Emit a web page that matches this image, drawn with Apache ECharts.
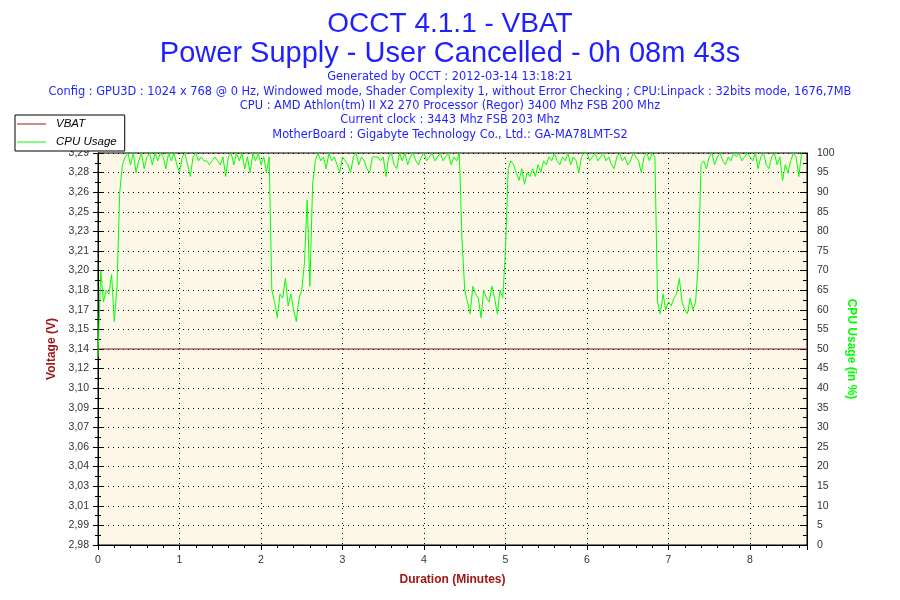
<!DOCTYPE html>
<html>
<head>
<meta charset="utf-8">
<script src="https://cdn.jsdelivr.net/npm/echarts@6/dist/echarts.min.js"></script>
<style>
html,body{margin:0;padding:0;background:#fff;}
#chart{width:900px;height:600px;}
</style>
</head>
<body>
<div id="chart"></div>
<script>
// ---- data ----
const titleLines = ['OCCT 4.1.1 - VBAT', 'Power Supply - User Cancelled - 0h 08m 43s'];
const infoLines = [
  'Generated by OCCT : 2012-03-14 13:18:21',
  'Config : GPU3D : 1024 x 768 @ 0 Hz, Windowed mode, Shader Complexity 1, without Error Checking ; CPU:Linpack : 32bits mode, 1676,7MB',
  'CPU : AMD Athlon(tm) II X2 270 Processor (Regor) 3400 Mhz FSB 200 Mhz',
  'Current clock : 3443 Mhz FSB 203 Mhz',
  'MotherBoard : Gigabyte Technology Co., Ltd.: GA-MA78LMT-S2'
];
const seriesNames = ['VBAT', 'CPU Usage'];

// sampling step of the CPU usage trace (seconds)
const SAMPLE_STEP_S = 2;
// CPU usage (%) every 2 s from t = 0 s
const cpuUsage = [
  48,70,62,65,64,69,57,66,90,97,
  99,100,97,100,95,98,100,96,99,100, 97,100,98,100,99,96,100,98,100,97,
  95,99,100,97,94,99,100,98,99,98, 98,97,98,99,98,97,99,94,99,100,
  97,100,98,100,96,99,95,100,98,100, 97,99,95,99,
  65,62,58,64,63,68,61,64,60,57,63,65,72,88,66,92,98,
  100,98,99,96,100,98,99,97,95,99, 98,97,95,99,100,97,99,98,96,95,
  99,99,99,98,99,94,99,100,97,96, 100,98,100,97,99,100,98,97,99,100,
  98,99,100,98,99,100,98,99,100,97, 99,98,100,
  78,65,62,59,66,64,63,58,65,63,62,66,63,59,65,63,75,
  96,98,97,95,93,96,92,95,94,96, 94,97,95,98,97,99,98,100,98,97,
  99,98,100,97,99,98,95,99,100,100, 98,99,100,98,99,100,98,99,97,96,
  99,100,98,99,97,98,100,99,98,95, 99,100,98,100,99,
  62,59,64,60,62,61,63,64,68,62,60,59,63,60,62,72,
  97, 98,96,99,100,97,99,100,98,97,99, 98,100,99,100,98,99,100,99,98,100,
  96,99,100,97,96,99,100,97,99,93, 97,95,98,100,99,94,100
];
// VBAT (V): constant reading over the whole run
const vbatTimesS = [0, 522];
const vbatValues = [3.136, 3.136];

// axis ranges / ticks
const durationMaxMin = 8.7;
const voltMin = 2.9792, voltMax = 3.2928, voltStep = 0.01568;
const cpuMin = 0, cpuMax = 100, cpuStep = 5;

// ---- chart ----
const cpuData = cpuUsage.map((v, i) => [i * SAMPLE_STEP_S / 60, v]);
const vbatData = vbatTimesS.map((t, i) => [t / 60, vbatValues[i]]);

const FONT = 'Liberation Sans';
const INFO_FONT = 'DejaVu Sans';
const darkRed = '#a31515';
const blue = '#1f1fff';
const labelColor = '#333';
const dotted = {color: '#000', width: 1, type: [1, 4]};

const titles = [
  {text: titleLines[0], left: 'center', top: 5, textStyle: {color: blue, fontSize: 28, fontWeight: 'normal', fontFamily: FONT}},
  {text: titleLines[1], left: 'center', top: 34, textStyle: {color: blue, fontSize: 29, fontWeight: 'normal', fontFamily: FONT}}
];
infoLines.forEach((t, i) => titles.push({
  text: t, left: 'center', top: 67 + i * 14.3,
  textStyle: {color: blue, fontSize: 11.4, fontWeight: 'normal', fontFamily: INFO_FONT}
}));

const xBase = {
  type: 'value', min: 0, max: durationMaxMin, interval: 1,
  axisLine: {show: true, lineStyle: {color: '#000', width: 1}},
  axisLabel: {show: false}, splitLine: {show: false}
};
const yVoltBase = {
  type: 'value', position: 'left', min: voltMin, max: voltMax, interval: voltStep,
  axisLine: {show: true, lineStyle: {color: '#000', width: 1}},
  axisLabel: {show: false}, splitLine: {show: false}
};
const yCpuBase = {
  type: 'value', position: 'right', min: cpuMin, max: cpuMax, interval: cpuStep,
  axisLine: {show: true, lineStyle: {color: '#000', width: 1}},
  axisLabel: {show: false}, splitLine: {show: false}
};
const tickStyle = {color: '#000', width: 1};

const option = {
  animation: false,
  backgroundColor: '#fff',
  title: titles,
  legend: {
    orient: 'vertical', left: 15, top: 115,
    data: seriesNames,
    backgroundColor: '#fff', borderColor: '#000', borderWidth: 1,
    padding: [3, 8, 3, 2], itemGap: 6,
    itemWidth: 29, itemHeight: 1, icon: 'rect',
    textStyle: {color: '#000', fontStyle: 'italic', fontSize: 11.5, fontFamily: FONT, padding: [0, 0, 0, 5]},
    z: 20
  },
  grid: {
    left: 98, right: 93, top: 153, bottom: 55,
    show: true, backgroundColor: '#fdf7e8', borderColor: '#000', borderWidth: 1
  },
  xAxis: [
    Object.assign({}, xBase, {
      name: 'Duration (Minutes)', nameLocation: 'middle', nameGap: 29,
      nameTextStyle: {color: darkRed, fontWeight: 'bold', fontSize: 12, fontFamily: FONT},
      axisTick: {show: true, length: 5, lineStyle: tickStyle},
      minorTick: {show: true, splitNumber: 5, length: 3, lineStyle: tickStyle},
      axisLabel: {show: true, color: labelColor, fontSize: 10.5, fontFamily: FONT, margin: 10, showMaxLabel: false},
      splitLine: {show: true, lineStyle: dotted}
    }),
    Object.assign({}, xBase, {
      axisTick: {show: true, inside: true, length: 5, lineStyle: tickStyle},
      minorTick: {show: true, splitNumber: 5, length: 3, lineStyle: tickStyle}
    })
  ],
  yAxis: [
    Object.assign({}, yVoltBase, {
      name: 'Voltage (V)', nameLocation: 'middle', nameGap: 40,
      nameTextStyle: {color: darkRed, fontWeight: 'bold', fontSize: 12, fontFamily: FONT},
      axisTick: {show: true, length: 5, lineStyle: tickStyle},
      minorTick: {show: true, splitNumber: 2, length: 3, lineStyle: tickStyle},
      axisLabel: {show: true, color: labelColor, fontSize: 10.5, fontFamily: FONT, margin: 9,
        formatter: v => v.toFixed(2).replace('.', ',')}
    }),
    Object.assign({}, yCpuBase, {
      name: 'CPU Usage (in %)', nameLocation: 'middle', nameGap: 32, nameRotate: -90,
      nameTextStyle: {color: '#00ff00', fontWeight: 'bold', fontSize: 12, fontFamily: FONT},
      axisTick: {show: true, length: 3, lineStyle: tickStyle},
      minorTick: {show: true, splitNumber: 2, length: 2, lineStyle: tickStyle},
      axisLabel: {show: true, color: labelColor, fontSize: 10.5, fontFamily: FONT, margin: 10},
      splitLine: {show: true, lineStyle: dotted}
    }),
    Object.assign({}, yVoltBase, {
      axisTick: {show: true, inside: true, length: 5, lineStyle: tickStyle},
      minorTick: {show: true, splitNumber: 2, length: 3, lineStyle: tickStyle}
    }),
    Object.assign({}, yCpuBase, {
      axisTick: {show: true, inside: true, length: 7, lineStyle: tickStyle},
      minorTick: {show: true, splitNumber: 2, length: 4, lineStyle: tickStyle}
    })
  ],
  series: [
    {
      name: seriesNames[0], type: 'line', xAxisIndex: 0, yAxisIndex: 0,
      data: vbatData, symbol: 'none', color: '#8b1a1a',
      lineStyle: {color: '#8b1a1a', width: 1}, z: 3
    },
    {
      name: seriesNames[1], type: 'line', xAxisIndex: 0, yAxisIndex: 1,
      data: cpuData, symbol: 'none', color: '#00ff00',
      lineStyle: {color: '#00ff00', width: 1}, z: 4
    }
  ]
};

const chart = echarts.init(document.getElementById('chart'), null, {renderer: 'canvas'});
chart.setOption(option);
</script>
</body>
</html>
